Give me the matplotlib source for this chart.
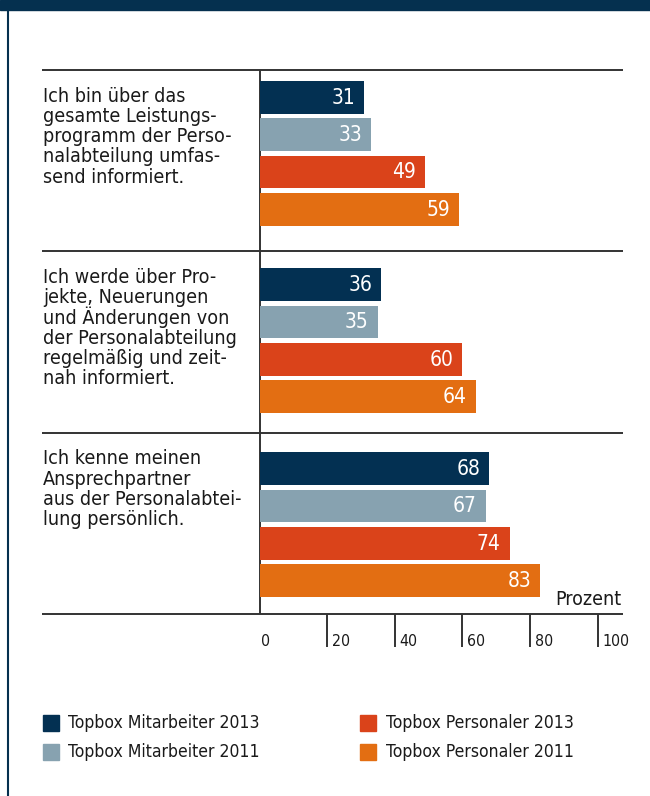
import matplotlib
matplotlib.use('Agg')
import matplotlib.pyplot as plt
import matplotlib.font_manager as fm
from matplotlib.patches import Rectangle

# a narrow face is closest to the original; take what is installed
faces = fm.fontManager.ttflist
if any(f.name == 'Liberation Sans Narrow' for f in faces):
    plt.rcParams['font.family'] = ['Liberation Sans Narrow', 'DejaVu Sans']
elif any(f.name == 'DejaVu Sans' and f.stretch == 'condensed' for f in faces):
    plt.rcParams['font.family'] = ['DejaVu Sans']
    plt.rcParams['font.stretch'] = 'condensed'
else:
    plt.rcParams['font.family'] = ['Lato', 'DejaVu Sans']

# data
questions = [
    ['Ich bin über das', 'gesamte Leistungs-', 'programm der Perso-',
     'nalabteilung umfas-', 'send informiert.'],
    ['Ich werde über Pro-', 'jekte, Neuerungen', 'und Änderungen von',
     'der Personalabteilung', 'regelmäßig und zeit-', 'nah informiert.'],
    ['Ich kenne meinen', 'Ansprechpartner', 'aus der Personalabtei-',
     'lung persönlich.'],
]
series_labels = ['Topbox Mitarbeiter 2013', 'Topbox Mitarbeiter 2011',
                 'Topbox Personaler 2013', 'Topbox Personaler 2011']
ma_2013 = [31, 36, 68]
ma_2011 = [33, 35, 67]
pers_2013 = [49, 60, 74]
pers_2011 = [59, 64, 83]
ticks = [0, 20, 40, 60, 80, 100]

series = [ma_2013, ma_2011, pers_2013, pers_2011]
colors = ['#033052', '#87a2b0', '#da431a', '#e36e12']
navy = '#05304f'
ink = '#1a1a1a'
grid = '#333333'

# layout (pixels, y down)
W, H = 650, 796
X0 = 259.5          # pixel of 0 %
PX = 3.38           # pixels per percent
group_lines = [69.5, 251, 432.5, 613.5]
bar_tops = [81, 268.3, 452.3]
pitch = 37.3
bar_h = 32.7


def px(p):
    return (p - X0) / PX


fig = plt.figure(figsize=(W / 100, H / 100), dpi=100)
ax = fig.add_axes([0, 0, 1, 1])
ax.set_xlim(px(0), px(W))
ax.set_ylim(H, 0)
ax.axis('off')

# frame: top band + left border
fig.patches.append(Rectangle((0, 1 - 10 / H), 1, 10 / H, transform=fig.transFigure,
                             color=navy, zorder=0))
ax.plot([px(8.3), px(8.3)], [0, H], color=navy, lw=1.5, solid_capstyle='butt')

# separators
for y in group_lines:
    ax.plot([px(42.5), px(623)], [y, y], color=grid, lw=1.4, solid_capstyle='butt')
ax.plot([0, 0], [group_lines[0], group_lines[-1]], color=grid, lw=1.4,
        solid_capstyle='butt')

# bars
for g in range(3):
    for j, vals in enumerate(series):
        yc = bar_tops[g] + j * pitch + bar_h / 2
        ax.barh(yc, vals[g], height=bar_h, left=0, color=colors[j], zorder=3)
        ax.text(vals[g] - 9 / PX, yc + 0.5, str(vals[g]), color='white', fontsize=15,
                ha='right', va='center', zorder=4)
    # question text
    for k, line in enumerate(questions[g]):
        ax.text(px(43), group_lines[g] + 32 + k * 20.3, line, color=ink, fontsize=14.1,
                ha='left', va='baseline')

# x axis ticks
for t in ticks[1:]:
    ax.plot([t, t], [group_lines[-1], 647], color=grid, lw=1.4, solid_capstyle='butt')
for t in ticks:
    off = 2 if t == 0 else 4.6
    ax.text(t + off / PX, 642, str(t), color=ink, fontsize=11.4, ha='left', va='center')
ax.text(px(621), 605, 'Prozent', color=ink, fontsize=14, ha='right', va='baseline')

# legend
leg_pos = [(43, 715), (43, 744), (360, 715), (360, 744)]
for (lx, ly), lab, c in zip(leg_pos, series_labels, colors):
    ax.add_patch(Rectangle((px(lx), ly), 16 / PX, 16, color=c))
    ax.text(px(lx + 25.5), ly + 8, lab, color=ink, fontsize=12.6, ha='left', va='center')

fig.savefig('out.png', dpi=100)
